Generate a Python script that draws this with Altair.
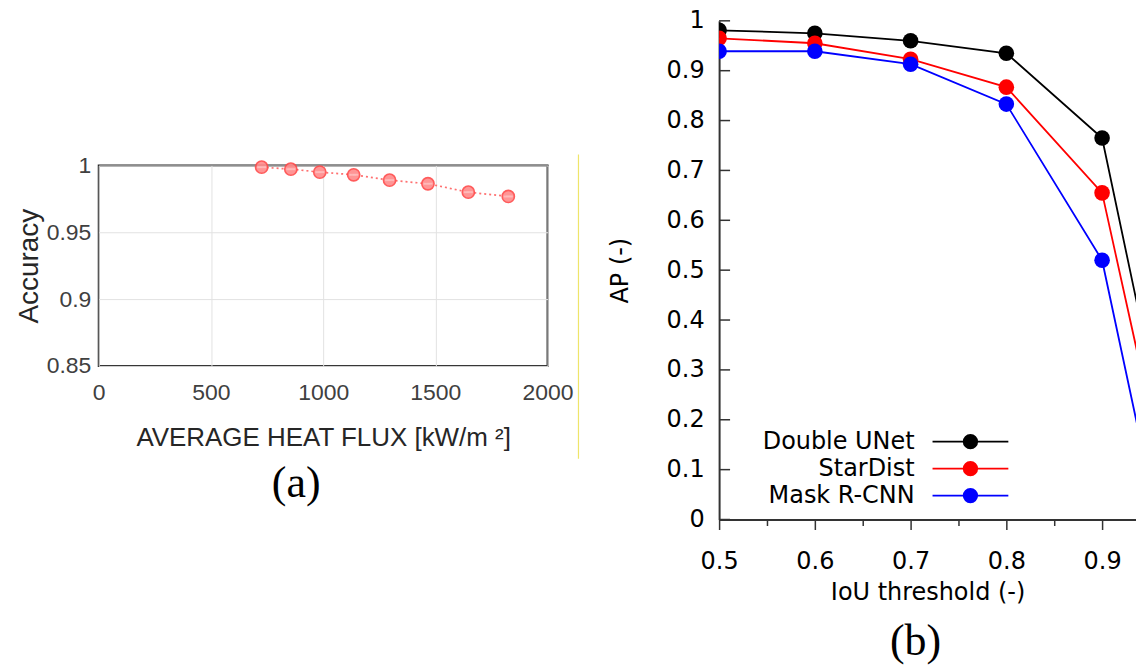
import altair as alt
import pandas as pd

# (a) classification accuracy against average heat flux
heat_flux = [726, 856, 985, 1136, 1296, 1467, 1647, 1825]
accuracy = [0.9987, 0.9972, 0.9950, 0.9930, 0.9890, 0.9863, 0.9800, 0.9768]

# (b) average precision against IoU threshold
iou = [0.5, 0.6, 0.7, 0.8, 0.9, 0.95]
ap_double_unet = [0.981, 0.975, 0.960, 0.935, 0.765, 0.31]
ap_stardist = [0.965, 0.955, 0.923, 0.867, 0.655, 0.22]
ap_mask_rcnn = [0.939, 0.939, 0.913, 0.833, 0.520, 0.07]

series_names = ["Double UNet", "StarDist", "Mask R-CNN"]
series_colors = ["#000000", "#ff0000", "#0000ff"]

ap_ticks = [round(i * 0.1, 1) for i in range(11)]
iou_ticks = [0.5, 0.6, 0.7, 0.8, 0.9]
iou_minor_ticks = [0.55, 0.65, 0.75, 0.85]

acc_df = pd.DataFrame({"flux": heat_flux, "acc": accuracy})

ap_df = pd.concat(
    [
        pd.DataFrame({"iou": iou, "ap": vals, "series": name})
        for name, vals in zip(series_names, [ap_double_unet, ap_stardist, ap_mask_rcnn])
    ],
    ignore_index=True,
)
legend_df = pd.DataFrame({"series": series_names, "row": list(range(len(series_names)))})

RW, RH = 418, 500
x_dom = [0.5, 0.5 + RW / 960]
# inward tick marks sit on the left edge of the IoU range
ap_tick_df = pd.DataFrame({"iou": [x_dom[0]] * len(ap_ticks), "ap": ap_ticks})

color = alt.Color(
    "series:N",
    scale=alt.Scale(domain=series_names, range=series_colors),
    legend=None,
)

# ---------------- panel (a) ----------------
LW, LH = 450, 201
sans = "Liberation Sans"

xa = alt.X(
    "flux:Q",
    scale=alt.Scale(domain=[0, 2000], nice=False),
    axis=alt.Axis(
        values=[0, 500, 1000, 1500, 2000], format="d", grid=True, gridColor="#e2e2e2",
        domain=False, ticks=False, labelFlush=False, labelPadding=16, labelFont=sans,
        labelFontSize=23, labelColor="#404040", title="AVERAGE HEAT FLUX [kW/m  ²]",
        titleFont=sans, titleFontSize=26, titleFontWeight="normal", titleColor="#262626",
        titlePadding=20,
    ),
)
ya = alt.Y(
    "acc:Q",
    scale=alt.Scale(domain=[0.85, 1.0], nice=False, zero=False),
    axis=alt.Axis(
        values=[0.85, 0.9, 0.95, 1.0], labelExpr="toString(datum.value)", grid=True,
        gridColor="#e2e2e2", domain=False, ticks=False, labelPadding=8, labelFont=sans,
        labelFontSize=23, labelColor="#404040", title="Accuracy", titleFont=sans,
        titleFontSize=28, titleFontWeight="normal", titleColor="#262626", titlePadding=3,
    ),
)

acc_line = alt.Chart(acc_df).mark_line(
    color="#ff7070", strokeWidth=1.7, strokeDash=[2, 3]
).encode(x=xa, y=ya)
acc_pts = alt.Chart(acc_df).mark_point(
    shape="circle", filled=True, size=150, fill="#ff8a8a", opacity=0.9,
    stroke="#ff4a4a", strokeWidth=1.6,
).encode(x="flux:Q", y="acc:Q")
acc_bar = alt.Chart(acc_df).mark_tick(
    orient="horizontal", size=9, thickness=2, color="#ffcaca"
).encode(x="flux:Q", y="acc:Q")

label_a = alt.Chart(pd.DataFrame({"t": ["(a)"]})).mark_text(
    font="Liberation Serif", fontSize=44, align="center", baseline="middle", color="#000"
).encode(x=alt.value(198), y=alt.value(319), text="t:N")
divider = alt.Chart(pd.DataFrame({"t": [0]})).mark_rule(
    color="#efe56a", strokeWidth=1.2
).encode(x=alt.value(481), y=alt.value(-11), y2=alt.value(294))

panel_a = alt.layer(acc_line, acc_pts, acc_bar, label_a, divider).properties(
    width=LW, height=LH,
    view=alt.ViewBackground(stroke="#262626", strokeWidth=2),
)

spacer = alt.Chart(pd.DataFrame({"v": [0]})).mark_point(opacity=0).encode(
    x=alt.X("v:Q", axis=None), y=alt.Y("v:Q", axis=None)
).properties(width=LW, height=132)

left_col = alt.vconcat(spacer, panel_a, spacing=0)

# ---------------- panel (b) ----------------
dv = "DejaVu Sans"

xb_main = alt.X(
    "iou:Q",
    scale=alt.Scale(domain=x_dom, nice=False, zero=False),
    axis=alt.Axis(
        orient="bottom", values=iou_ticks, format=".1f", grid=False,
        domain=True, domainColor="#333", domainWidth=2, ticks=True, tickSize=10,
        tickColor="#333", tickWidth=1.5, labelFlush=False, labelPadding=20, labelFont=dv,
        labelFontSize=24, labelColor="#000", title="IoU threshold (-)", titleFont=dv,
        titleFontSize=24, titleFontWeight="normal", titleColor="#000", titlePadding=7,
    ),
)
xb_minor = alt.X(
    "iou:Q",
    axis=alt.Axis(
        orient="bottom", values=iou_minor_ticks, grid=False, domain=False,
        labels=False, ticks=True, tickSize=6, tickColor="#333", tickWidth=1.5, title=None,
    ),
)
yb_main = alt.Y(
    "ap:Q",
    scale=alt.Scale(domain=[0, 1], nice=False),
    axis=alt.Axis(
        orient="left", values=ap_ticks,
        labelExpr="datum.value == 0 ? '0' : datum.value == 1 ? '1' : format(datum.value, '.1f')",
        grid=False, domain=True, domainColor="#333", domainWidth=2, ticks=False, tickSize=0,
        labelPadding=15, labelFont=dv, labelFontSize=24, labelColor="#000",
        title="AP (-)", titleFont=dv, titleFontSize=24, titleFontWeight="normal",
        titleColor="#000", titlePadding=34,
    ),
)

ap_lines = alt.Chart(ap_df).mark_line(strokeWidth=1.8, clip=True).encode(
    x=xb_main, y=yb_main, color=color, detail="series:N"
)
ap_pts = alt.Chart(ap_df).mark_point(
    shape="circle", filled=True, size=245, opacity=1, clip=True
).encode(x=xb_minor, y=alt.Y("ap:Q", axis=None), color=color)

ap_inner_ticks = alt.Chart(ap_tick_df).mark_tick(
    orient="horizontal", size=11, thickness=1.5, color="#333333", opacity=1, xOffset=5.5
).encode(x=alt.X("iou:Q", axis=None), y=alt.Y("ap:Q", axis=None))

leg_base = alt.Chart(legend_df).transform_calculate(ly="422 + 27 * datum.row")
leg_rule = leg_base.mark_rule(strokeWidth=1.8).encode(
    x=alt.value(214), x2=alt.value(290), y=alt.Y("ly:Q", scale=None, axis=None), color=color
)
leg_dot = leg_base.mark_point(shape="circle", filled=True, size=235, opacity=1).encode(
    x=alt.value(252), y=alt.Y("ly:Q", scale=None, axis=None), color=color
)
leg_text = leg_base.mark_text(
    font=dv, fontSize=24, align="right", baseline="middle", color="#000"
).encode(x=alt.value(196), y=alt.Y("ly:Q", scale=None, axis=None), text="series:N")

label_b = alt.Chart(pd.DataFrame({"t": ["(b)"]})).mark_text(
    font="Liberation Serif", fontSize=44, align="center", baseline="middle", color="#000"
).encode(x=alt.value(197), y=alt.value(623), text="t:N")

panel_b = (
    alt.layer(ap_lines, ap_inner_ticks, ap_pts, leg_rule, leg_dot, leg_text, label_b)
    .resolve_axis(x="independent", y="independent")
    .properties(width=RW, height=RH)
)

chart = (
    alt.hconcat(left_col, panel_b, spacing=27)
    .properties(padding={"left": 14, "top": 8, "right": 0, "bottom": 0}, background="white")
    .configure_view(stroke="#262626", strokeWidth=0)
)

chart.save("out.html", embed_options={"renderer": "svg", "actions": False})
